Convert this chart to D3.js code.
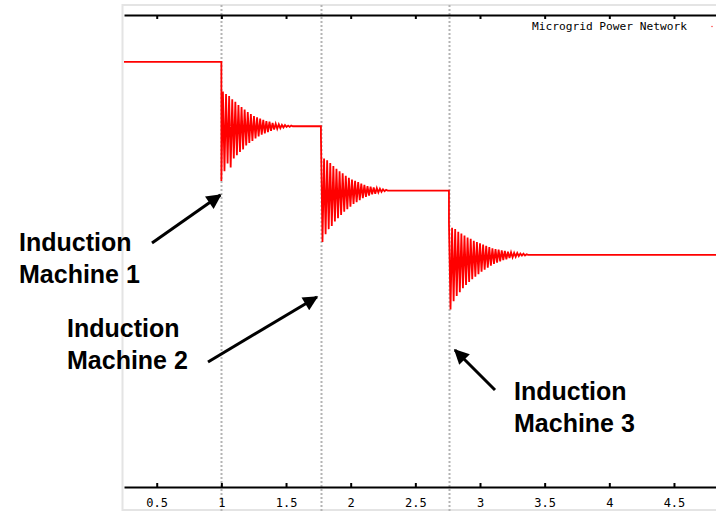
<!DOCTYPE html>
<html>
<head>
<meta charset="utf-8">
<script src="https://cdn.jsdelivr.net/npm/d3@7"></script>
<style>
  body { margin: 0; background: #fff; }
  svg { display: block; }
</style>
</head>
<body>
<svg id="chart"></svg>
<script>
// Chart data
const title = "Microgrid Power Network";
const xTicks = [0.5, 1, 1.5, 2, 2.5, 3, 3.5, 4, 4.5];
const eventTimes = [1.0, 1.77, 2.76];
const eventLabels = ["Machine 1", "Machine 2", "Machine 3"];
const levels = [4, 3, 2, 1];
const sampleStep = 0.012;

// Oscillation samples after each machine start
const transient1 = [2.15, 3.54, 2.30, 3.50, 2.42, 3.47, 2.36, 3.42, 2.50, 3.38, 2.55, 3.33,
  2.60, 3.30, 2.64, 3.26, 2.70, 3.22, 2.74, 3.19, 2.77, 3.16, 2.81, 3.14, 2.84, 3.12,
  2.87, 3.10, 2.89, 3.08, 2.91, 3.07, 2.93, 3.05, 2.95, 3.04, 2.96, 3.03, 2.97, 3.02,
  2.98, 3.02, 2.99, 3.01, 2.99, 3.01, 3.0];
const transient2 = [2.84, 1.20, 2.50, 1.32, 2.47, 1.40, 2.43, 1.45, 2.38, 1.52, 2.34, 1.57,
  2.30, 1.62, 2.27, 1.67, 2.23, 1.71, 2.20, 1.75, 2.17, 1.79, 2.15, 1.82, 2.13, 1.85,
  2.11, 1.88, 2.09, 1.90, 2.07, 1.92, 2.06, 1.94, 2.05, 1.95, 2.04, 1.97, 2.03, 1.98,
  2.02, 1.99, 2.01, 2.0];
const transient3 = [1.50, 0.15, 1.42, 0.28, 1.40, 0.36, 1.36, 0.42, 1.33, 0.48, 1.30, 0.53,
  1.27, 0.58, 1.25, 0.62, 1.22, 0.66, 1.20, 0.70, 1.18, 0.74, 1.16, 0.77, 1.14, 0.80,
  1.12, 0.83, 1.10, 0.86, 1.09, 0.88, 1.08, 0.90, 1.07, 0.92, 1.06, 0.93, 1.05, 0.95,
  1.04, 0.96, 1.03, 0.97, 1.03, 0.98, 1.02, 0.99, 1.02, 0.99, 1.01, 1.0];
const transients = [transient1, transient2, transient3];

// Dimensions
const width = 716;
const height = 513;
const plotTop = 15;
const plotBottom = 487;

const svg = d3.select("#chart")
  .attr("width", width)
  .attr("height", height);

// Scales
const x = d3.scaleLinear().domain([0.247, 4.825]).range([124, 716]);
const y = d3.scaleLinear().domain([-2.61, 4.73]).range([plotBottom, plotTop]);

// Light gray frame
svg.append("line")
  .attr("x1", 122.5).attr("x2", 122.5)
  .attr("y1", 4).attr("y2", 511)
  .attr("stroke", "#e4e4e4").attr("stroke-width", 2);
svg.append("line")
  .attr("x1", 122).attr("x2", width)
  .attr("y1", 5).attr("y2", 5)
  .attr("stroke", "#e4e4e4").attr("stroke-width", 2);
svg.append("line")
  .attr("x1", 122).attr("x2", width)
  .attr("y1", 510).attr("y2", 510)
  .attr("stroke", "#e4e4e4").attr("stroke-width", 2);

// Dotted event markers
svg.selectAll(".marker")
  .data(eventTimes)
  .enter()
  .append("line")
  .attr("class", "marker")
  .attr("x1", (d) => Math.round(x(d)) + 0.5).attr("x2", (d) => Math.round(x(d)) + 0.5)
  .attr("y1", 5).attr("y2", height)
  .attr("stroke", "#b4b4b4")
  .attr("stroke-width", 2)
  .attr("stroke-dasharray", "2,2");

// Build the signal from the steady levels and the transient samples
const points = [[x.domain()[0], levels[0]]];
eventTimes.forEach((t, i) => {
  points.push([t, levels[i]]);
  transients[i].forEach((v, j) => points.push([t + j * sampleStep, v]));
  const next = i + 1 < eventTimes.length ? eventTimes[i + 1] : x.domain()[1];
  points.push([next, levels[i + 1]]);
});

const line = d3.line()
  .x((d) => x(d[0]))
  .y((d) => y(d[1]));

svg.append("path")
  .datum(points)
  .attr("d", line)
  .attr("fill", "none")
  .attr("stroke", "#ff0000")
  .attr("stroke-width", 1.8);

// Bottom axis with labels
const bottomAxis = svg.append("g")
  .attr("transform", `translate(0, ${plotBottom})`)
  .call(d3.axisBottom(x).tickValues(xTicks).tickSizeInner(-4).tickSizeOuter(0)
    .tickPadding(11).tickFormat((d) => String(d)));

// Top axis, ticks only
const topAxis = svg.append("g")
  .attr("transform", `translate(0, ${plotTop})`)
  .call(d3.axisTop(x).tickValues(xTicks).tickSizeInner(-4).tickSizeOuter(0).tickFormat(""));

[bottomAxis, topAxis].forEach((g) => {
  g.select(".domain").attr("stroke", "#000").attr("stroke-width", 2);
  g.selectAll(".tick line").attr("stroke", "#000").attr("stroke-width", 2);
  g.selectAll(".tick text")
    .attr("fill", "#000")
    .style("font-family", "'DejaVu Sans Mono', monospace")
    .style("font-size", "12px");
});

// Title in the top right corner
svg.append("text")
  .attr("x", 532)
  .attr("y", 30)
  .style("font-family", "'DejaVu Sans Mono', monospace")
  .style("font-size", "11.2px")
  .attr("fill", "#000")
  .text(title);

svg.append("circle")
  .attr("cx", 712).attr("cy", 26.5).attr("r", 0.8)
  .attr("fill", "#ff0000").attr("opacity", 0.7);

// Arrow head marker
svg.append("defs")
  .append("marker")
  .attr("id", "head")
  .attr("viewBox", "0 0 10 10")
  .attr("refX", 9)
  .attr("refY", 5)
  .attr("markerWidth", 6)
  .attr("markerHeight", 5)
  .attr("markerUnits", "strokeWidth")
  .attr("orient", "auto")
  .append("path")
  .attr("d", "M0,0 L10,5 L0,10 Z")
  .attr("fill", "#000");

// Annotations: text position, arrow tail and arrow tip height
const notes = [
  { tx: 19, ty: 251, x1: 152, y1: 243, y2: 195, dx: -1 },
  { tx: 67, ty: 337, x1: 208, y1: 362, y2: 297, dx: -4 },
  { tx: 514, ty: 400, x1: 495, y1: 390, y2: 350, dx: 6 }
];

notes.forEach((n, i) => {
  const label = svg.append("text")
    .attr("x", n.tx)
    .attr("y", n.ty)
    .style("font-family", "'Liberation Sans', Arial, sans-serif")
    .style("font-weight", "bold")
    .style("font-size", "25px")
    .attr("fill", "#000");
  label.append("tspan").attr("x", n.tx).text("Induction");
  label.append("tspan").attr("x", n.tx).attr("dy", 32).text(eventLabels[i]);

  svg.append("line")
    .attr("x1", n.x1).attr("y1", n.y1)
    .attr("x2", x(eventTimes[i]) + n.dx).attr("y2", n.y2)
    .attr("stroke", "#000")
    .attr("stroke-width", 3)
    .attr("marker-end", "url(#head)");
});
</script>
</body>
</html>
